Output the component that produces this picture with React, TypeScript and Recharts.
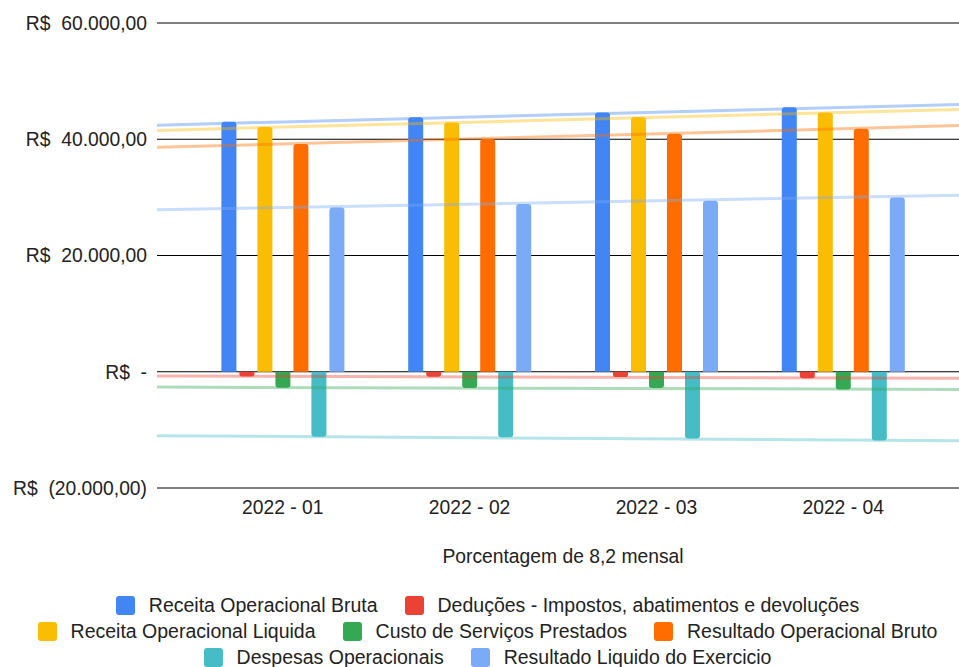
import React from 'react';
import {
  ComposedChart,
  Bar,
  XAxis,
  YAxis,
  CartesianGrid,
  ReferenceLine,
  Legend,
} from 'recharts';

// ---- data ----
const months = ['2022 - 01', '2022 - 02', '2022 - 03', '2022 - 04'];
const receitaBruta = [43000, 43800, 44600, 45500];
const deducoes = [-820, -840, -910, -1100];
const receitaLiquida = [42100, 42900, 43800, 44600];
const custoServicos = [-2750, -2780, -2800, -3050];
const resultadoBruto = [39200, 40050, 40950, 41800];
const despesasOperacionais = [-11200, -11280, -11480, -11820];
const resultadoLiquido = [28250, 28850, 29400, 30000];
const yTicks = [-20000, 0, 20000, 40000, 60000];
const xAxisTitle = 'Porcentagem de 8,2 mensal';

const seriesNames = [
  'Receita Operacional Bruta',
  'Deduções - Impostos, abatimentos e devoluções',
  'Receita Operacional Liquida',
  'Custo de Serviços Prestados',
  'Resultado Operacional Bruto',
  'Despesas Operacionais',
  'Resultado Liquido do Exercicio',
];
const seriesValues = [
  receitaBruta,
  deducoes,
  receitaLiquida,
  custoServicos,
  resultadoBruto,
  despesasOperacionais,
  resultadoLiquido,
];
const seriesColors = ['#4285f4', '#ea4335', '#fbbc04', '#34a853', '#ff6d01', '#46bdc6', '#7baaf7'];
const legendRows = [[0, 1], [2, 3, 4], [5, 6]];

const keys = seriesNames.map((_, i) => `s${i}`);
const data = months.map((m, i) => {
  const row: Record<string, number | string> = { x: i, label: m };
  seriesValues.forEach((vals, s) => {
    row[keys[s]] = vals[i];
  });
  return row;
});

const X_MIN = -0.6735;
const X_MAX = 3.6735;

function linReg(values: number[]) {
  const n = values.length;
  const xs = values.map((_, i) => i);
  const mx = xs.reduce((a, b) => a + b, 0) / n;
  const my = values.reduce((a, b) => a + b, 0) / n;
  let num = 0;
  let den = 0;
  xs.forEach((x, i) => {
    num += (x - mx) * (values[i] - my);
    den += (x - mx) * (x - mx);
  });
  const b = num / den;
  const a = my - b * mx;
  return { a, b };
}

function groupThousands(n: number) {
  const s = Math.round(n).toString();
  return s.replace(/\B(?=(\d{3})+(?!\d))/g, '.');
}

function formatBRL(v: number) {
  const sp = '\u00A0\u00A0';
  if (v === 0) return `R$${sp}-`;
  const body = `${groupThousands(Math.abs(v))},00`;
  return v < 0 ? `R$${sp}(${body})` : `R$${sp}${body}`;
}

const FONT = 'Arial, "Liberation Sans", sans-serif';
const W = 975;
const H = 670;

const renderLegend = () => (
  <div style={{ width: W, height: 78, fontFamily: FONT }}>
    {legendRows.map((row, r) => (
      <div
        key={r}
        style={{
          height: 26,
          display: 'flex',
          justifyContent: 'center',
          alignItems: 'center',
          gap: 27,
        }}
      >
        {row.map((s) => (
          <div key={s} style={{ display: 'flex', alignItems: 'center', gap: 14 }}>
            <span
              style={{
                display: 'inline-block',
                width: 19,
                height: 19,
                borderRadius: 3,
                background: seriesColors[s],
              }}
            />
            <span style={{ fontSize: 19.5, color: '#222', whiteSpace: 'nowrap' }}>
              {seriesNames[s]}
            </span>
          </div>
        ))}
      </div>
    ))}
  </div>
);

export default function App() {
  return (
    <div
      style={{
        position: 'absolute',
        left: 0,
        top: 0,
        width: 959,
        height: 667,
        overflow: 'hidden',
        background: '#fff',
        fontFamily: FONT,
      }}
    >
      <ComposedChart
        width={W}
        height={H}
        data={data}
        margin={{ top: 23, right: 6, left: 0, bottom: 0 }}
        barGap={3}
      >
        <CartesianGrid vertical={false} stroke="#000" strokeWidth={1} />
        <XAxis
          type="number"
          dataKey="x"
          domain={[X_MIN, X_MAX]}
          ticks={[0, 1, 2, 3]}
          interval={0}
          allowDataOverflow
          tickFormatter={(v: number) => months[v] ?? ''}
          axisLine={false}
          tickLine={false}
          tickSize={0}
          tickMargin={12}
          height={104}
          tick={{ fill: '#222', fontSize: 19.3, fontFamily: FONT }}
          label={{
            value: xAxisTitle,
            position: 'insideBottom',
            offset: 29,
            style: { fill: '#222', fontSize: 19.3, fontFamily: FONT },
          }}
        />
        <YAxis
          type="number"
          domain={[-20000, 60000]}
          ticks={yTicks}
          interval={0}
          width={157}
          axisLine={false}
          tickLine={false}
          tickSize={0}
          tickMargin={10}
          tickFormatter={formatBRL}
          tick={{ fill: '#222', fontSize: 19.3, fontFamily: FONT }}
        />
        <Legend verticalAlign="bottom" content={renderLegend} wrapperStyle={{ left: 0, width: W }} />
        {keys.map((k, i) => (
          <Bar
            key={k}
            dataKey={k}
            name={seriesNames[i]}
            fill={seriesColors[i]}
            barSize={15}
            radius={[3, 3, 0, 0]}
            isAnimationActive={false}
          />
        ))}
        {seriesValues.map((vals, i) => {
          const { a, b } = linReg(vals);
          return (
            <ReferenceLine
              key={`t${i}`}
              ifOverflow="visible"
              segment={[
                { x: X_MIN, y: a + b * X_MIN },
                { x: X_MAX, y: a + b * X_MAX },
              ]}
              stroke={seriesColors[i]}
              strokeOpacity={0.4}
              strokeWidth={3}
            />
          );
        })}
      </ComposedChart>
    </div>
  );
}
